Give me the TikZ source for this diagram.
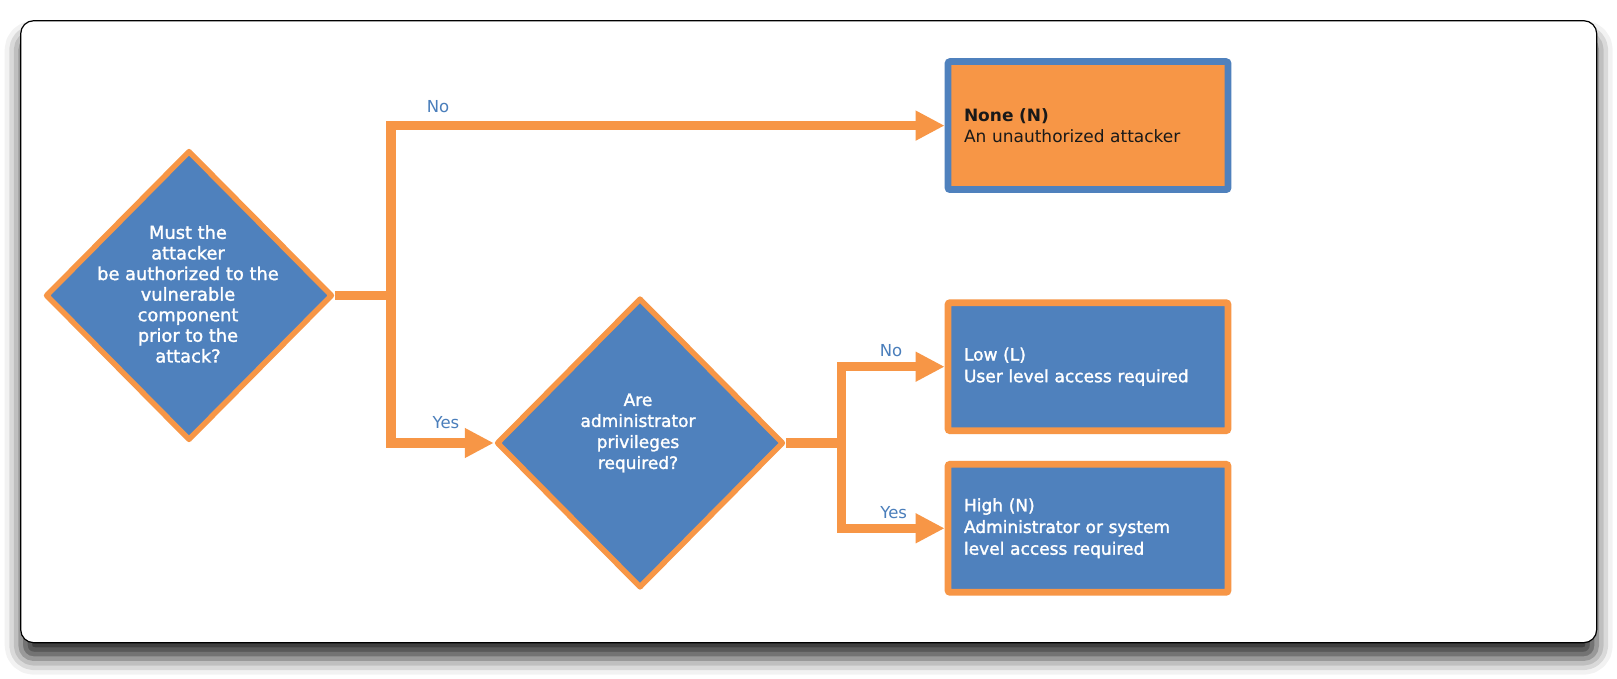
\documentclass[tikz,border=0pt]{standalone}
\usepackage{fontspec}
\setmainfont{DejaVu Sans}
\newfontfamily\heavyfont[FakeBold=1.6]{DejaVu Sans}
\usetikzlibrary{shapes.geometric,arrows.meta,shadows.blur}
\definecolor{cvorange}{HTML}{F79646}
\definecolor{cvblue}{HTML}{4F81BD}
\definecolor{cvlabel}{HTML}{4A7EBB}
\begin{document}
\begin{tikzpicture}[x=1pt,y=-1pt,
  decision/.style={diamond, draw=cvorange, fill=cvblue, line width=5.5pt, line join=round,
    inner sep=0pt, minimum width=287pt, minimum height=290pt},
  qtext/.style={text=white, align=center, inner sep=0pt},
  outcome/.style={rectangle, rounded corners=2pt, line width=6.7pt, minimum width=280pt,
    minimum height=128pt, inner xsep=16pt, text width=248pt, align=left},
  flow/.style={draw=cvorange, line width=9.5pt, line join=miter},
  tip/.style={-{Triangle[length=29pt,width=28pt]}},
  lbl/.style={text=cvlabel, anchor=base, inner sep=0pt, font=\fontsize{16.5}{20}\selectfont},
  framebox/.style={draw=black, line width=1.2pt, fill=white, rounded corners=13pt,
    minimum width=1576pt, minimum height=622pt, inner sep=0pt,
    blur shadow={shadow xshift=0pt, shadow yshift=-16pt, shadow blur radius=16pt, shadow opacity=80}}
]
\useasboundingbox (0,0) rectangle (1617,679);
\node[framebox] (frame) at (808.7,331.7) {};

\node[decision] (d1) at (189,295.5) {};
\node[qtext, font=\heavyfont\fontsize{17.8}{20.6}\selectfont] (d1t) at (188,294) {Must the\\attacker\\be authorized to the\\vulnerable\\component\\prior to the\\attack?};
\node[decision] (d2) at (640,443) {};
\node[qtext, font=\heavyfont\fontsize{17}{21}\selectfont] (d2t) at (638,433) {Are\\administrator\\privileges\\required?};

\node[outcome, draw=cvblue, fill=cvorange, text=black!90, font=\fontsize{17}{21.7}\selectfont] (none) at (1088,125.6) {\textbf{None (N)}\\An unauthorized attacker};
\node[outcome, draw=cvorange, fill=cvblue, text=white, font=\heavyfont\fontsize{17}{21.7}\selectfont] (low) at (1088,366.7) {Low (L)\\User level access required};
\node[outcome, draw=cvorange, fill=cvblue, text=white, font=\heavyfont\fontsize{17}{21.7}\selectfont] (high) at (1088,528.3) {High (N)\\Administrator or system\\level access required};

\coordinate (j1) at (391,295.5);
\coordinate (j2) at (841.7,443);
\draw[flow] (d1.east) -- (j1);
\draw[flow,tip] (j1) |- (none.west);
\draw[flow,tip] (j1) |- (d2.west);
\draw[flow] (d2.east) -- (j2);
\draw[flow,tip] (j2) |- (low.west);
\draw[flow,tip] (j2) |- (high.west);

\node[lbl] (lno1) at (438,113) {No};
\node[lbl] (lyes1) at (446,428) {Yes};
\node[lbl] (lno2) at (891,356.7) {No};
\node[lbl] (lyes2) at (893.7,518) {Yes};
\end{tikzpicture}
\end{document}
